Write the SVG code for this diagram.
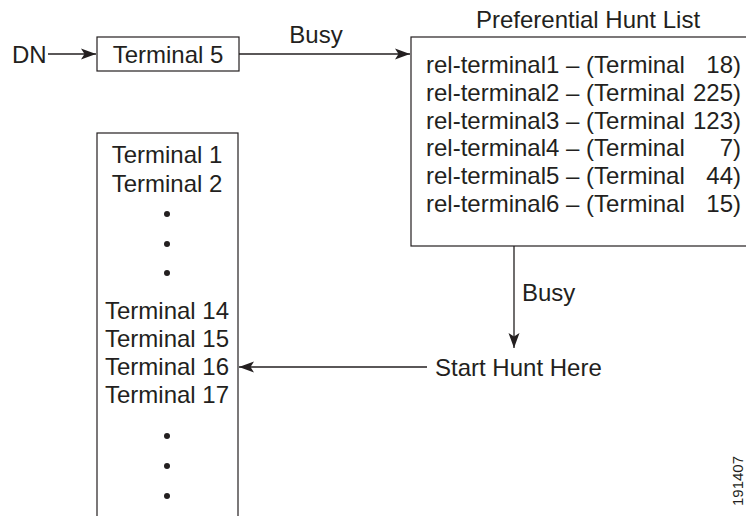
<svg xmlns="http://www.w3.org/2000/svg" width="746" height="516" viewBox="0 0 746 516">
<defs>
<style>
text{font-family:"Liberation Sans",Arial,Helvetica,sans-serif;font-size:24px;fill:#231f20}
.box{fill:#fff;stroke:#231f20;stroke-width:1.2}
.ln{fill:none;stroke:#231f20;stroke-width:1.3}
.c{text-anchor:middle}
.e{text-anchor:end}
.dot{fill:#231f20}
</style>
<marker id="ah" markerWidth="16" markerHeight="12" refX="15" refY="6" orient="auto" markerUnits="userSpaceOnUse">
<path d="M0,0.5 L15,6 L0,11.5 L3.5,6 z" fill="#231f20"/>
</marker>
</defs>
<rect width="746" height="516" fill="#fff"/>
<g id="connectors">
<line class="ln" x1="48" y1="54" x2="96" y2="54" marker-end="url(#ah)"/>
<line class="ln" x1="239" y1="54" x2="410" y2="54" marker-end="url(#ah)"/>
<text x="316" y="43" class="c">Busy</text>
<line class="ln" x1="514" y1="246" x2="514" y2="348" marker-end="url(#ah)"/>
<text x="522" y="301">Busy</text>
<line class="ln" x1="427" y1="367" x2="239" y2="367" marker-end="url(#ah)"/>
</g>
<g id="dn">
<text x="12" y="63">DN</text>
</g>
<g id="terminal5">
<rect class="box" x="97" y="37" width="142" height="34"/>
<text x="168" y="63" class="c">Terminal 5</text>
</g>
<g id="huntlist">
<text x="588" y="28" class="c">Preferential Hunt List</text>
<rect class="box" x="411" y="37" width="340" height="209"/>
<text x="426" y="73">rel-terminal1 – (Terminal</text><text x="741" y="73" class="e">18)</text>
<text x="426" y="101">rel-terminal2 – (Terminal</text><text x="741" y="101" class="e">225)</text>
<text x="426" y="129">rel-terminal3 – (Terminal</text><text x="741" y="129" class="e">123)</text>
<text x="426" y="156">rel-terminal4 – (Terminal</text><text x="741" y="156" class="e">7)</text>
<text x="426" y="184">rel-terminal5 – (Terminal</text><text x="741" y="184" class="e">44)</text>
<text x="426" y="212">rel-terminal6 – (Terminal</text><text x="741" y="212" class="e">15)</text>
</g>
<g id="starthunt">
<text x="435" y="376">Start Hunt Here</text>
</g>
<g id="terminallist">
<rect class="box" x="97" y="133" width="141" height="400"/>
<text x="167" y="163" class="c">Terminal 1</text>
<text x="167" y="192" class="c">Terminal 2</text>
<circle class="dot" cx="167" cy="214" r="3"/>
<circle class="dot" cx="167" cy="244" r="3"/>
<circle class="dot" cx="167" cy="273" r="3"/>
<text x="167" y="319" class="c">Terminal 14</text>
<text x="167" y="347" class="c">Terminal 15</text>
<text x="167" y="375" class="c">Terminal 16</text>
<text x="167" y="403" class="c">Terminal 17</text>
<circle class="dot" cx="167" cy="436" r="3"/>
<circle class="dot" cx="167" cy="466" r="3"/>
<circle class="dot" cx="167" cy="496" r="3"/>
</g>
<text x="0" y="0" transform="translate(743,481) rotate(-90)" class="c" style="font-size:15px">191407</text>
</svg>
